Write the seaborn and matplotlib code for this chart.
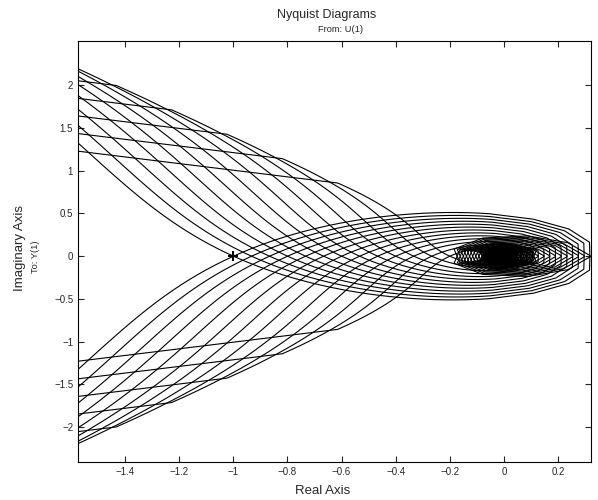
import numpy as np
import pandas as pd
import matplotlib
matplotlib.use('Agg')
import matplotlib.pyplot as plt
import seaborn as sns

# ── Data: open loop L(s) = K (s + z) e^{-sT} / s^2, one curve per gain ──
gains = [0.3, 0.4, 0.5, 0.6, 0.7, 0.8, 0.9, 1.0, 1.1, 1.2, 1.3, 1.4, 1.5]
zero = 0.1
delay = 1.0
w_low = [0.05]                       # coarse low-frequency sample (rad/s)
w_mid = (0.3, 3.0, 90)               # dense band: start, stop, points
w_high = (3.0, 100.0, 32)            # sparse band: start, stop, points

x_ticks = [-1.4, -1.2, -1, -0.8, -0.6, -0.4, -0.2, 0, 0.2]
y_ticks = [-2, -1.5, -1, -0.5, 0, 0.5, 1, 1.5, 2]

# ── Frequency response ──────────────────────────────────────
w = np.concatenate([w_low,
                    np.logspace(np.log10(w_mid[0]), np.log10(w_mid[1]), w_mid[2]),
                    np.logspace(np.log10(w_high[0]), np.log10(w_high[1]), w_high[2])[1:]])
s = 1j * w
rows = []
for k in gains:
    h = k * (s + zero) * np.exp(-s * delay) / s**2
    for branch, vals in (('pos', h), ('neg', np.conj(h))):
        rows.append(pd.DataFrame({'re': vals.real, 'im': vals.imag,
                                  'curve': f'{k}_{branch}'}))
df = pd.concat(rows, ignore_index=True)

# ── Plot ────────────────────────────────────────────────────
sns.set_style('white')
plt.rcParams['font.family'] = ['Liberation Sans', 'DejaVu Sans']

fig = plt.figure(figsize=(5.98, 5.0), dpi=100)
ax = fig.add_axes([78/598, 1 - 462/500, (591 - 78)/598, (462 - 41)/500])

sns.lineplot(data=df, x='re', y='im', units='curve', estimator=None, sort=False,
             color='black', linewidth=0.8, ax=ax, legend=False)
ax.plot(-1, 0, marker='+', color='black', markersize=7, markeredgewidth=1.5)

ax.set_xlim(-1.574, 0.322)
ax.set_ylim(-2.41, 2.52)
ax.set_xticks(x_ticks)
ax.set_xticklabels([f'{t:g}'.replace('-', '\u2212') for t in x_ticks])
ax.set_yticks(y_ticks)
ax.set_yticklabels([f'{t:g}'.replace('-', '\u2212') for t in y_ticks])
ax.tick_params(direction='in', length=4, width=0.8, labelsize=7,
               top=True, right=True, bottom=True, left=True)
for sp in ax.spines.values():
    sp.set_color('black')
    sp.set_linewidth(0.8)
ax.set_xlabel('')
ax.set_ylabel('')

fig.text(327/598, 1 - 15/500, 'Nyquist Diagrams', ha='center', va='center', fontsize=9)
fig.text(341/598, 1 - 29/500, 'From: U(1)', ha='center', va='center', fontsize=6.7)
fig.text(323/598, 1 - 491/500, 'Real Axis', ha='center', va='center', fontsize=9.5)
fig.text(20/598, 1 - 248/500, 'Imaginary Axis', ha='center', va='center',
         rotation=90, fontsize=9.5)
fig.text(36/598, 1 - 257/500, 'To: Y(1)', ha='center', va='center',
         rotation=90, fontsize=6.7)

fig.savefig('out.png', dpi=100)
